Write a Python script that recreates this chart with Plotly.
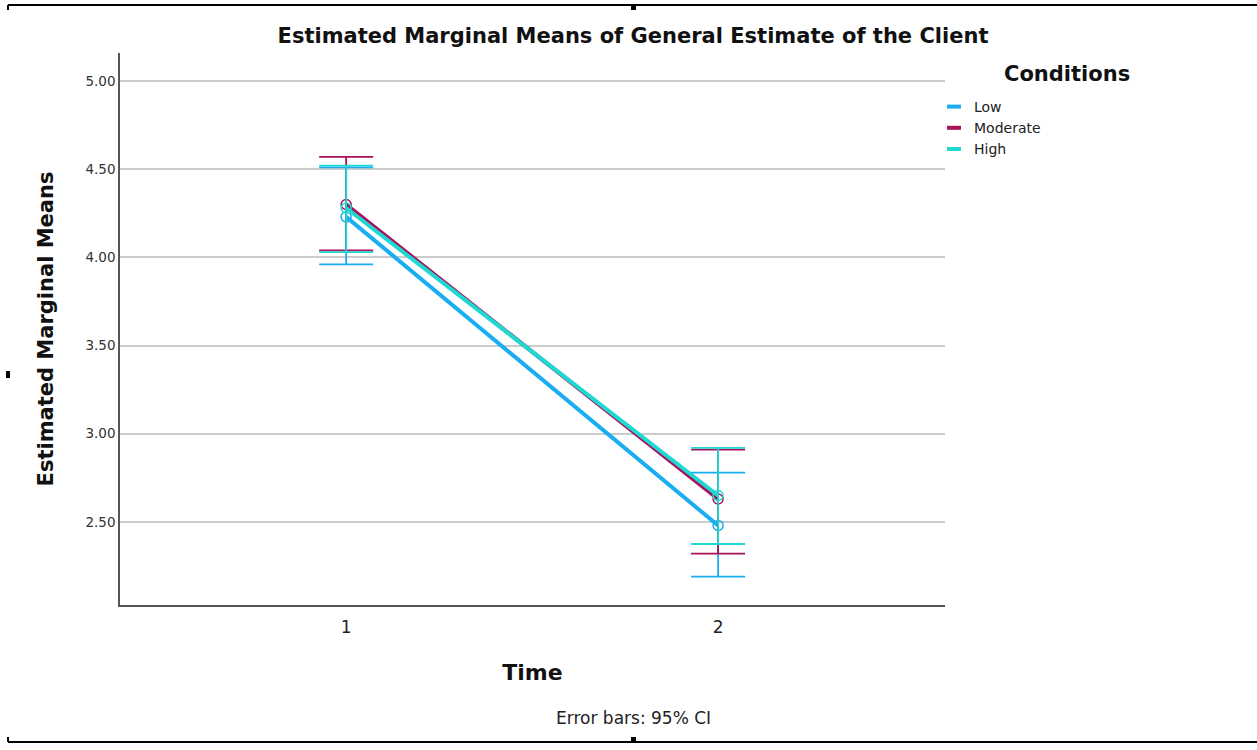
import plotly.graph_objects as go

times = [1, 2]
time_labels = ["1", "2"]
conditions = ["Low", "Moderate", "High"]
colors = {"Low": "#1AADF2", "Moderate": "#A8125A", "High": "#1ED8D2"}
means = {
    "Low": [4.23, 2.48],
    "Moderate": [4.30, 2.63],
    "High": [4.28, 2.65],
}
ci_upper = {
    "Low": [4.51, 2.78],
    "Moderate": [4.57, 2.91],
    "High": [4.52, 2.92],
}
ci_lower = {
    "Low": [3.96, 2.19],
    "Moderate": [4.04, 2.32],
    "High": [4.03, 2.375],
}
y_ticks = [2.5, 3.0, 3.5, 4.0, 4.5, 5.0]
y_tick_labels = ["2.50", "3.00", "3.50", "4.00", "4.50", "5.00"]

FONT = "DejaVu Sans"
W, H = 1257, 750
PL, PR, PT, PB = 120, 945, 53, 605  # plot area in page pixels

fig = go.Figure()

for c in conditions:
    plus = [u - m for u, m in zip(ci_upper[c], means[c])]
    minus = [m - l for m, l in zip(means[c], ci_lower[c])]
    fig.add_trace(go.Scatter(
        x=times, y=means[c], mode="lines+markers", name=c, showlegend=False,
        line=dict(color=colors[c], width=4),
        marker=dict(symbol="circle-open", size=10, color=colors[c], line=dict(width=1.5)),
        error_y=dict(type="data", symmetric=False, array=plus, arrayminus=minus,
                     color=colors[c], thickness=1.8, width=27),
    ))

for c in conditions:
    fig.add_trace(go.Scatter(
        x=[None], y=[None], mode="markers", name=c, showlegend=True,
        marker=dict(symbol="line-ew-open", size=10, color=colors[c],
                    line=dict(width=4, color=colors[c])),
    ))


def px(xp):
    return (xp - PL) / (PR - PL)


def py(yp):
    return (PB - yp) / (PB - PT)


fig.update_layout(
    width=W, height=H,
    margin=dict(l=PL, r=W - PR, t=PT, b=H - PB),
    paper_bgcolor="white", plot_bgcolor="white",
    title=dict(text="<b>Estimated Marginal Means of General Estimate of the Client</b>",
               x=633 / W, xanchor="center", y=1 - 36 / H, yanchor="middle",
               font=dict(family=FONT, size=21, color="#111111")),
    font=dict(family=FONT, color="#222222"),
    legend=dict(
        x=px(934), xanchor="left", y=py(91), yanchor="top",
        font=dict(family=FONT, size=14, color="#222222"),
        tracegroupgap=0, itemwidth=30, bgcolor="rgba(0,0,0,0)",
    ),
    xaxis=dict(
        range=[0.392, 2.61], tickvals=times, ticktext=time_labels,
        showgrid=False, zeroline=False, showline=True, linecolor="#555555", linewidth=1.5,
        ticks="", ticklabelstandoff=6, tickfont=dict(family=FONT, size=17, color="#222222"),
        title=dict(text="<b>Time</b>", font=dict(family=FONT, size=22, color="#111111"), standoff=28),
    ),
    yaxis=dict(
        range=[2.029, 5.159], tickvals=y_ticks, ticktext=y_tick_labels,
        showgrid=True, gridcolor="#CCCCCC", gridwidth=1.5, zeroline=False,
        showline=True, linecolor="#555555", linewidth=1.5, ticks="",
        tickfont=dict(family=FONT, size=13.5, color="#333333"),
        title=dict(text="<b>Estimated Marginal Means</b>", font=dict(family=FONT, size=21, color="#111111"),
                   standoff=26),
    ),
)

fig.add_annotation(text="<b>Conditions</b>", xref="paper", yref="paper",
                   x=px(1067), y=py(74), xanchor="center", yanchor="middle",
                   showarrow=False, font=dict(family=FONT, size=21, color="#111111"))

fig.add_annotation(text="Error bars: 95% CI", xref="paper", yref="paper",
                   x=px(633), y=py(718), xanchor="center", yanchor="middle",
                   showarrow=False, font=dict(family=FONT, size=17, color="#222222"))

# outer frame marks
frame = [
    (8, 5, 1257, 5), (8, 5, 8, 10),
    (8, 742, 1257, 742), (8, 737, 8, 742),
]
for x0, y0, x1, y1 in frame:
    fig.add_shape(type="line", xref="paper", yref="paper",
                  x0=px(x0), y0=py(y0), x1=px(x1), y1=py(y1),
                  line=dict(color="black", width=2))
for x0, y0, x1, y1 in [(631, 5, 636, 10), (631, 737, 636, 742), (6, 371, 10, 378)]:
    fig.add_shape(type="rect", xref="paper", yref="paper",
                  x0=px(x0), y0=py(y0), x1=px(x1), y1=py(y1),
                  line=dict(width=0), fillcolor="black")

fig.write_html("out.html", config={"displayModeBar": False},
               post_script="document.body.style.margin='0px';")
